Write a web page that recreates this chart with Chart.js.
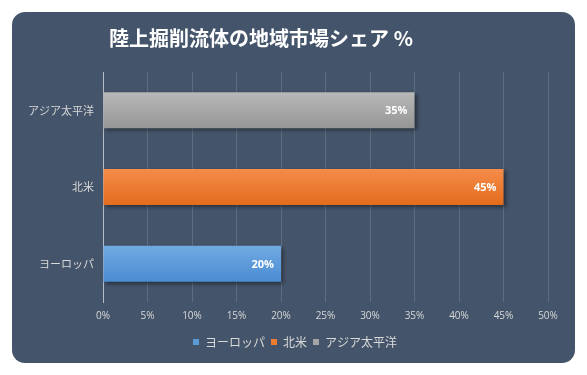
<!DOCTYPE html>
<html>
<head>
<meta charset="utf-8">
<script src="https://cdn.jsdelivr.net/npm/chart.js@4/dist/chart.umd.min.js"></script>
<style>
  html, body { margin: 0; padding: 0; background: #fff; }
  #wrap { width: 587px; height: 375px; }
</style>
</head>
<body>
<div id="wrap"><canvas id="shareChart"></canvas></div>
<script>
const regions = ['ヨーロッパ', '北米', 'アジア太平洋'];
const shares = [20, 45, 35];
const xTicks = [0, 5, 10, 15, 20, 25, 30, 35, 40, 45, 50];
const chartTitle = '陸上掘削流体の地域市場シェア %';

const topColors = ['#72a9e2', '#f58c4b', '#b8b8b8'];
const bottomColors = ['#4a8cd2', '#e36c1c', '#969696'];
const legendColors = ['#5b9bd5', '#ed7d31', '#a5a5a5'];

const panelBg = {
    id: 'panelBg',
    beforeDraw(chart) {
        const ctx = chart.ctx;
        ctx.save();
        ctx.fillStyle = '#ffffff';
        ctx.fillRect(0, 0, chart.width, chart.height);
        ctx.fillStyle = '#44546a';
        ctx.beginPath();
        ctx.roundRect(12, 12, 563, 351, 13);
        ctx.fill();
        ctx.restore();
    }
};

// excel puts the title and legend a bit off the middle, nudge them
const nudgeBoxes = {
    id: 'nudgeBoxes',
    afterLayout(chart) {
        if (chart.titleBlock) {
            chart.titleBlock.left -= 19;
            chart.titleBlock.right -= 19;
        }
        if (chart.legend) {
            chart.legend.left += 15;
            chart.legend.right += 15;
        }
    }
};

const barShadow = {
    id: 'barShadow',
    beforeDatasetsDraw(chart) {
        const ctx = chart.ctx;
        ctx.save();
        ctx.shadowColor = 'rgba(0,0,0,0.45)';
        ctx.shadowBlur = 4;
        ctx.shadowOffsetX = 2;
        ctx.shadowOffsetY = 2;
    },
    afterDatasetsDraw(chart) {
        chart.ctx.restore();
    }
};

const valueLabels = {
    id: 'valueLabels',
    afterDatasetsDraw(chart) {
        const ctx = chart.ctx;
        const meta = chart.getDatasetMeta(0);
        ctx.save();
        ctx.fillStyle = '#ffffff';
        ctx.font = 'bold 11px "Open Sans", sans-serif';
        ctx.textAlign = 'right';
        ctx.textBaseline = 'middle';
        meta.data.forEach((bar, i) => {
            ctx.fillText(shares[i] + '%', bar.x - 7, bar.y + 1);
        });
        ctx.restore();
    }
};

function barFill(context) {
    const chart = context.chart;
    const i = context.dataIndex;
    const yScale = chart.scales.y;
    if (!chart.chartArea || !yScale) return legendColors[i];
    const bar = chart.getDatasetMeta(0).data[i];
    let top, bottom;
    if (bar && bar.height) {
        top = bar.y - bar.height / 2;
        bottom = bar.y + bar.height / 2;
    } else {
        const c = yScale.getPixelForValue(i);
        top = c - 18; bottom = c + 18;
    }
    const g = chart.ctx.createLinearGradient(0, top, 0, bottom);
    g.addColorStop(0, topColors[i]);
    g.addColorStop(1, bottomColors[i]);
    return g;
}

new Chart(document.getElementById('shareChart'), {
    type: 'bar',
    data: {
        labels: regions,
        datasets: [{
            data: shares,
            backgroundColor: barFill,
            borderWidth: 0,
            categoryPercentage: 1,
            barPercentage: 0.47
        }]
    },
    options: {
        indexAxis: 'y',
        responsive: true,
        maintainAspectRatio: false,
        animation: false,
        layout: { padding: { left: 12, right: 39, top: 0, bottom: 17 } },
        scales: {
            x: {
                min: 0,
                max: 50,
                afterBuildTicks(scale) { scale.ticks = xTicks.map(v => ({ value: v })); },
                ticks: {
                    color: '#d9d9d9',
                    font: { family: '"Open Sans", sans-serif', size: 10 },
                    padding: 8,
                    callback: v => v + '%'
                },
                grid: { color: 'rgba(255,255,255,0.14)', lineWidth: 1, drawTicks: false },
                border: { display: false }
            },
            y: {
                reverse: true,
                afterFit(scale) { scale.width = 91; },
                ticks: {
                    color: '#d9d9d9',
                    font: { family: '"Noto Sans CJK JP", sans-serif', size: 11 },
                    padding: 9
                },
                grid: { display: false, drawTicks: false },
                border: { display: true, color: '#b4bcc8', width: 1 }
            }
        },
        plugins: {
            title: {
                display: true,
                text: chartTitle,
                color: '#ffffff',
                font: { family: '"Noto Sans CJK JP", sans-serif', size: 20, weight: 'bold' },
                padding: { top: 26, bottom: 22 }
            },
            legend: {
                position: 'bottom',
                labels: {
                    color: '#d9d9d9',
                    font: { family: '"Noto Sans CJK JP", sans-serif', size: 12 },
                    usePointStyle: true,
                    pointStyle: 'rect',
                    boxWidth: 6,
                    boxHeight: 6,
                    padding: 6,
                    generateLabels() {
                        return regions.map((r, i) => ({
                            text: r,
                            fillStyle: legendColors[i],
                            strokeStyle: legendColors[i],
                            lineWidth: 0,
                            fontColor: '#d9d9d9',
                            pointStyle: 'rect',
                            index: i
                        }));
                    }
                },
                onClick() {}
            },
            tooltip: { enabled: false }
        }
    },
    plugins: [panelBg, nudgeBoxes, barShadow, valueLabels]
});
</script>
</body>
</html>
